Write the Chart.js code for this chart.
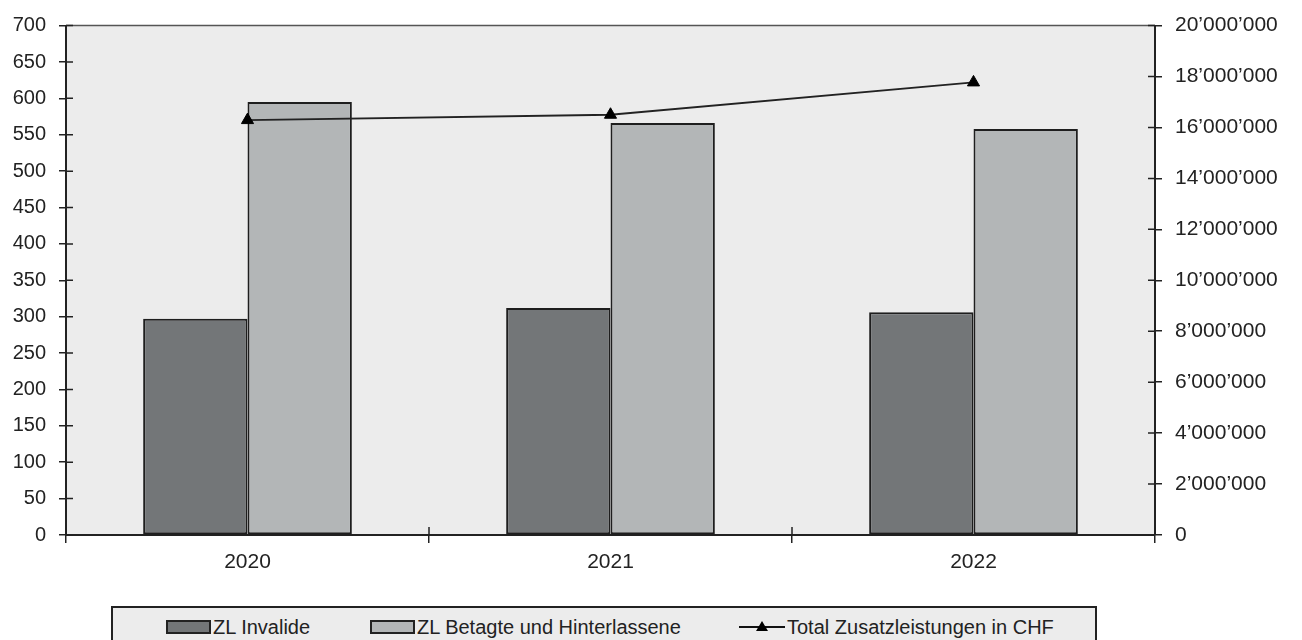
<!DOCTYPE html>
<html>
<head>
  <meta charset="UTF-8">
  <title>Zusatzleistungen</title>
  <style>
    body {
      margin: 0;
      background: #fff;
      font-family: Arial, "Liberation Sans", sans-serif;
    }
    #wrap {
      position: absolute;
      left: 0;
      top: 0;
      width: 1302px;
      height: 600px;
    }
    #legend {
      position: absolute;
      left: 111px;
      top: 606px;
      width: 982px;
      height: 50px;
      background: #ececec;
      border: 2px solid #222;
      font-size: 20px;
      color: #222;
    }
    .item {
      position: absolute;
      top: 7px;
      display: flex;
      align-items: center;
      white-space: nowrap;
      line-height: 24px;
    }
    .swatch {
      width: 41px;
      height: 10px;
      border: 2px solid #222;
      margin-right: 2px;
    }
    .linemark {
      width: 46px;
      height: 24px;
      margin-right: 2px;
    }
  </style>
</head>
<body>
  <div id="wrap"><canvas id="chart"></canvas></div>
  <div id="legend"></div>

  <script src="https://cdn.jsdelivr.net/npm/chart.js"></script>
  <script>
    const years = ["2020", "2021", "2022"];
    const invalide = [297, 312, 306];
    const betagte = [595, 566, 558];
    const totalChf = [16290000, 16500000, 17770000];

    const leftTicks = { min: 0, max: 700, step: 50 };
    const rightTicks = { min: 0, max: 20000000, step: 2000000 };

    const labels = ["ZL Invalide", "ZL Betagte und Hinterlassene", "Total Zusatzleistungen in CHF"];
    const colors = ["#737678", "#b3b6b7", "#222"];

    function swiss(v) {
      return String(v).replace(/\B(?=(\d{3})+(?!\d))/g, "\u2019");
    }

    // plot background, top border and the inner half of each axis tick
    const plotFrame = {
      id: "plotFrame",
      beforeDraw(chart) {
        const { ctx, chartArea: a } = chart;
        ctx.save();
        ctx.fillStyle = "#ececec";
        ctx.fillRect(a.left, a.top, a.right - a.left, a.bottom - a.top);
        ctx.strokeStyle = "#555";
        ctx.lineWidth = 1.5;
        ctx.beginPath();
        ctx.moveTo(a.left, a.top);
        ctx.lineTo(a.right, a.top);
        ctx.stroke();
        ctx.restore();
      },
      afterDraw(chart) {
        const { ctx, chartArea: a, scales } = chart;
        ctx.save();
        ctx.strokeStyle = "#222";
        ctx.lineWidth = 1.5;
        ctx.beginPath();
        scales.y.ticks.forEach((t) => {
          const py = scales.y.getPixelForValue(t.value);
          ctx.moveTo(a.left, py);
          ctx.lineTo(a.left + 7, py);
        });
        scales.y1.ticks.forEach((t) => {
          const py = scales.y1.getPixelForValue(t.value);
          ctx.moveTo(a.right - 7, py);
          ctx.lineTo(a.right, py);
        });
        const x = scales.x;
        const n = years.length;
        for (let i = 0; i <= n; i++) {
          const px = x.left + (x.width * i) / n;
          ctx.moveTo(px, a.bottom);
          ctx.lineTo(px, a.bottom - 8);
        }
        ctx.stroke();
        ctx.restore();
      },
    };

    const font = { family: "Arial, 'Liberation Sans', sans-serif", size: 20 };

    const chart = new Chart(document.getElementById("chart"), {
      type: "bar",
      data: {
        labels: years,
        datasets: [
          {
            type: "line",
            label: labels[2],
            data: totalChf,
            yAxisID: "y1",
            borderColor: colors[2],
            backgroundColor: "#000",
            borderWidth: 1.8,
            pointStyle: "triangle",
            pointRadius: 7,
            pointBorderWidth: 1,
            pointBorderColor: "#000",
            tension: 0,
            order: 0,
          },
          {
            label: labels[0],
            data: invalide,
            yAxisID: "y",
            backgroundColor: colors[0],
            borderColor: "#1e1e1e",
            borderWidth: 2,
            borderSkipped: false,
            categoryPercentage: 0.575,
            barPercentage: 1,
            order: 1,
          },
          {
            label: labels[1],
            data: betagte,
            yAxisID: "y",
            backgroundColor: colors[1],
            borderColor: "#1e1e1e",
            borderWidth: 2,
            borderSkipped: false,
            categoryPercentage: 0.575,
            barPercentage: 1,
            order: 1,
          },
        ],
      },
      options: {
        responsive: true,
        maintainAspectRatio: false,
        animation: false,
        layout: { padding: { top: 23, left: 0, right: 0, bottom: 0 } },
        plugins: {
          legend: { display: false },
          tooltip: { enabled: false },
        },
        scales: {
          x: {
            offset: true,
            grid: {
              display: true,
              offset: true,
              drawOnChartArea: false,
              tickLength: 8,
              color: "#222",
              lineWidth: 1.5,
            },
            border: { color: "#222", width: 2 },
            ticks: { color: "#222", font: { family: font.family, size: 21 }, padding: 7 },
            afterFit(scale) {
              scale.height = 65;
            },
          },
          y: {
            position: "left",
            min: leftTicks.min,
            max: leftTicks.max,
            grid: {
              drawOnChartArea: false,
              tickLength: 7,
              color: "#222",
              lineWidth: 1.5,
            },
            border: { color: "#222", width: 2 },
            ticks: { stepSize: leftTicks.step, color: "#222", font: font, padding: 13 },
            afterFit(scale) {
              scale.width = 66;
            },
          },
          y1: {
            position: "right",
            min: rightTicks.min,
            max: rightTicks.max,
            grid: {
              drawOnChartArea: false,
              tickLength: 7,
              color: "#222",
              lineWidth: 1.5,
            },
            border: { color: "#222", width: 2 },
            ticks: {
              stepSize: rightTicks.step,
              color: "#222",
              font: { family: font.family, size: 21 },
              padding: 13,
              callback: (v) => swiss(v),
            },
            afterFit(scale) {
              scale.width = 147;
            },
          },
        },
      },
      plugins: [plotFrame],
    });

    // legend as html, built from the datasets
    const legend = document.getElementById("legend");
    const itemLeft = [53, 257, 626];
    [1, 2, 0].forEach((di, i) => {
      const ds = chart.data.datasets[di];
      const item = document.createElement("div");
      item.className = "item";
      item.style.left = itemLeft[i] + "px";
      if (ds.type === "line") {
        item.innerHTML =
          '<svg class="linemark" viewBox="0 0 46 24"><line x1="0" y1="12" x2="46" y2="12" stroke="#111" stroke-width="1.8"/>' +
          '<polygon points="23,6 29,16 17,16" fill="#000"/></svg>';
      } else {
        item.innerHTML = '<span class="swatch" style="background:' + ds.backgroundColor + '"></span>';
      }
      const txt = document.createElement("span");
      txt.textContent = ds.label;
      item.appendChild(txt);
      legend.appendChild(item);
    });
  </script>
</body>
</html>
